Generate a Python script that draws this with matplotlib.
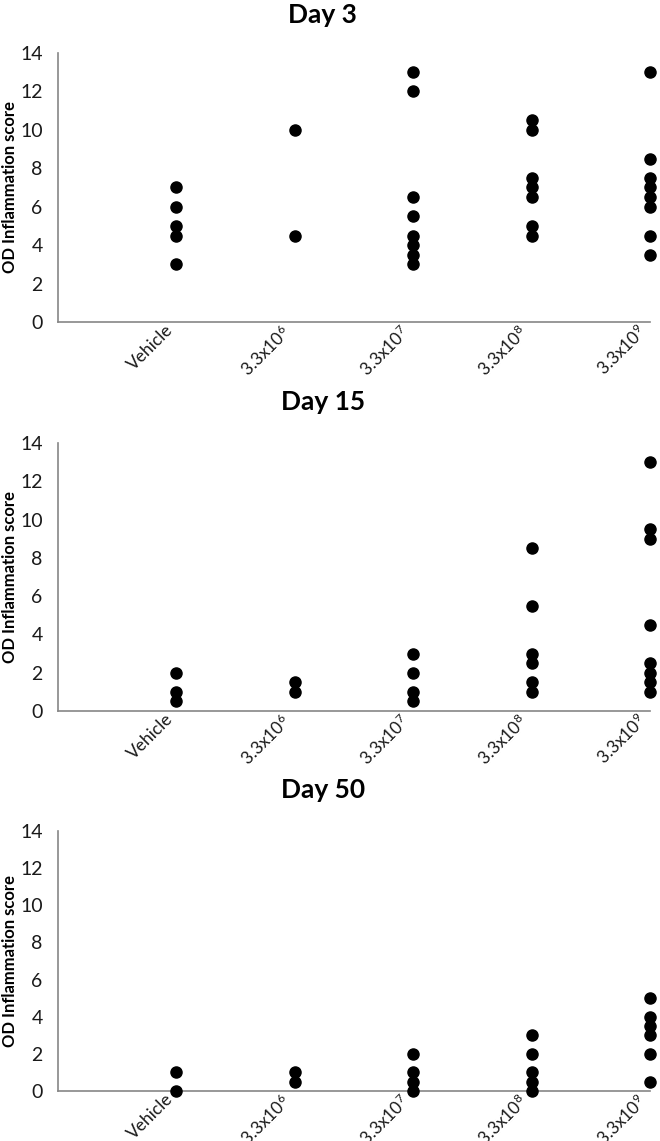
import matplotlib
matplotlib.use("Agg")
import matplotlib.pyplot as plt
import matplotlib.transforms as mtransforms

plt.rcParams['font.family'] = ['Lato', 'DejaVu Sans']
plt.rcParams['mathtext.fontset'] = 'custom'
plt.rcParams['mathtext.rm'] = 'Lato'
plt.rcParams['mathtext.it'] = 'Lato'

# categories on the x axis
groups = ['Vehicle', '3.3x10$^{6}$', '3.3x10$^{7}$', '3.3x10$^{8}$', '3.3x10$^{9}$']
days = ['Day 3', 'Day 15', 'Day 50']

# scores per group, one list per day
day3 = [
    [7, 6, 5, 4.5, 3],
    [10, 4.5],
    [13, 12, 6.5, 5.5, 4.5, 4, 3.5, 3],
    [10.5, 10, 7.5, 7, 6.5, 5, 4.5],
    [13, 8.5, 7.5, 7, 6.5, 6, 4.5, 3.5],
]
day15 = [
    [2, 1, 0.5],
    [1.5, 1],
    [3, 2, 1, 0.5],
    [8.5, 5.5, 3, 2.5, 1.5, 1],
    [13, 9.5, 9, 4.5, 2.5, 2, 1.5, 1],
]
day50 = [
    [1, 0],
    [1, 0.5],
    [2, 1, 0.5, 0],
    [3, 2, 1, 0.5, 0],
    [5, 4, 3.5, 3, 2, 0.5],
]
all_days = [day3, day15, day50]

fig = plt.figure(figsize=(6.6, 11.41), dpi=100)

# axes boxes (left, bottom, width, height) and title heights in figure fraction
boxes = [
    (0.0879, 0.7178, 0.897, 0.2358),
    (0.0879, 0.3769, 0.897, 0.2349),
    (0.0879, 0.0438, 0.897, 0.2279),
]
title_y = [0.987, 0.648, 0.3076]
spine_col = '#868686'

for box, ty, name, data in zip(boxes, title_y, days, all_days):
    ax = fig.add_axes(box)
    for i, vals in enumerate(data):
        ax.plot([i + 1] * len(vals), vals, 'o', color='black', ms=8, clip_on=False, zorder=3)
    ax.set_xlim(0, 5)
    ax.set_ylim(0, 14)
    ax.set_yticks(range(0, 15, 2))
    ax.set_xticks(range(1, 6))
    ax.set_xticklabels(groups, rotation=45, ha='right')
    offset = mtransforms.ScaledTranslation(14 / 100, 0, fig.dpi_scale_trans)
    for lab in ax.get_xticklabels():
        lab.set_transform(lab.get_transform() + offset)
    ax.tick_params(axis='both', length=0, colors='#1a1a1a')
    ax.tick_params(axis='y', labelsize=14, pad=11)
    ax.tick_params(axis='x', labelsize=12.5, pad=0)
    for s in ['top', 'right']:
        ax.spines[s].set_visible(False)
    for s in ['left', 'bottom']:
        ax.spines[s].set_color(spine_col)
        ax.spines[s].set_linewidth(1.2)
    ax.set_ylabel('OD Inflammation score', fontsize=12, fontweight='bold')
    ax.yaxis.set_label_coords(-0.068, 0.5)
    fig.text(0.489, ty, name, ha='center', va='center', fontsize=19, fontweight='bold')

fig.savefig('out.png', dpi=100)
